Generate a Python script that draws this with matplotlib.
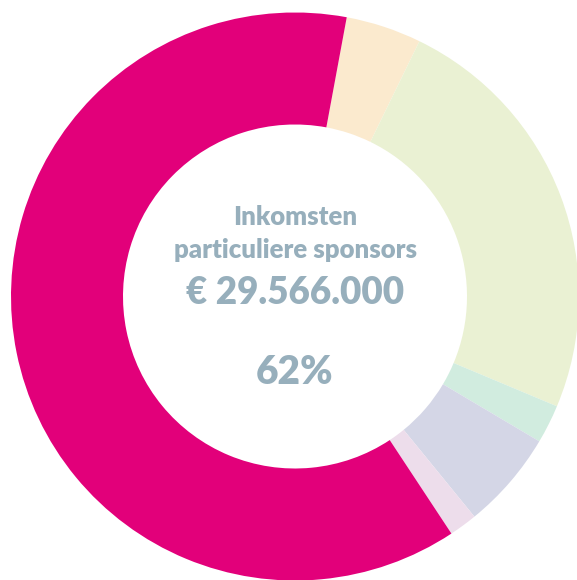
import matplotlib.pyplot as plt

# Aandeel per inkomstenbron (%), met de klok mee vanaf de bovenkant
bronnen = ["Bron A", "Bron B", "Bron C", "Bron D", "Bron E", "Particuliere sponsors"]
aandeel = [4.3, 24.1, 2.2, 5.6, 1.6, 62.2]
kleuren = ["#FBEACE", "#EAF1D3", "#D1ECDF", "#D4D6E6", "#EDDDEB", "#E2007A"]

titel = ["Inkomsten", "particuliere sponsors"]
bedrag = "€ 29.566.000"
percentage = "62%"

tekstkleur = "#97AFBC"
plt.rcParams["font.family"] = ["Lato", "DejaVu Sans"]

W, H = 577, 580
fig = plt.figure(figsize=(W / 100, H / 100), dpi=100)
ax = fig.add_axes([0, 0, 1, 1])

cx, cy = 295, H - 296.5
r_buiten, r_binnen = 284, 172

ax.pie(aandeel, colors=kleuren, startangle=90 - 10.5, counterclock=False,
       center=(cx, cy), radius=r_buiten,
       wedgeprops=dict(width=r_buiten - r_binnen, linewidth=0))

ax.set_xlim(0, W)
ax.set_ylim(0, H)
ax.set_aspect("equal")
ax.axis("off")

ax.text(cx, H - 217, titel[0], ha="center", va="center", fontsize=18.5,
        fontweight="heavy", color=tekstkleur)
ax.text(cx, H - 250, titel[1], ha="center", va="center", fontsize=18.5,
        fontweight="heavy", color=tekstkleur)
ax.text(cx, H - 293, bedrag, ha="center", va="center", fontsize=26.5,
        fontweight="heavy", color=tekstkleur)
ax.text(cx, H - 373, percentage, ha="center", va="center", fontsize=28,
        fontweight="heavy", color=tekstkleur)

fig.savefig("out.png", dpi=100)
